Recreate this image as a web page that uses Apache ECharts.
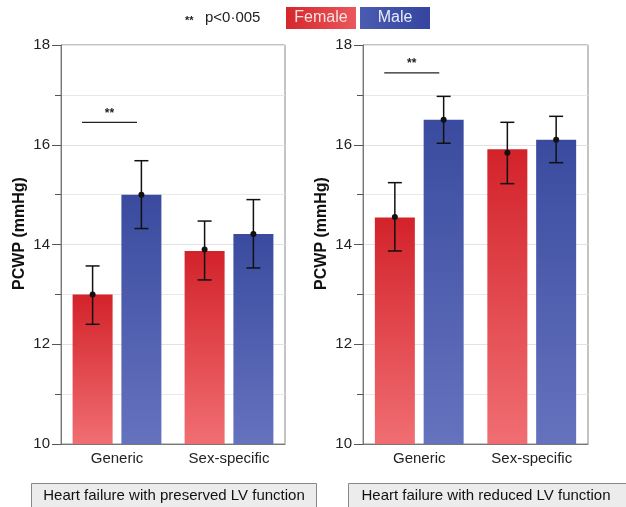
<!DOCTYPE html>
<html>
<head>
<meta charset="utf-8">
<script src="https://cdn.jsdelivr.net/npm/echarts@6/dist/echarts.min.js"></script>
<style>html,body{margin:0;padding:0;background:#fff;}#c{width:626px;height:507px;}</style>
</head>
<body>
<div id="c"></div>
<script>
// ---- data ----
const categories = ['Generic', 'Sex-specific'];
const panelTitles = ['Heart failure with preserved LV function', 'Heart failure with reduced LV function'];
const yTicks = [10, 12, 14, 16, 18];

const preservedFemale = [13.0, 13.87];
const preservedMale = [15.0, 14.21];
const preservedFemaleDot = [13.0, 13.9];
const preservedMaleDot = [15.0, 14.21];
const preservedFemaleLow = [12.4, 13.29];
const preservedFemaleHigh = [13.57, 14.47];
const preservedMaleLow = [14.32, 13.53];
const preservedMaleHigh = [15.68, 14.9];

const reducedFemale = [14.54, 15.91];
const reducedMale = [16.5, 16.1];
const reducedFemaleDot = [14.55, 15.84];
const reducedMaleDot = [16.5, 16.1];
const reducedFemaleLow = [13.87, 15.22];
const reducedFemaleHigh = [15.24, 16.45];
const reducedMaleLow = [16.03, 15.64];
const reducedMaleHigh = [16.97, 16.57];

const sigPreserved = [[0, 16.45]];
const sigReduced = [[0, 17.44]];
const sigLabel = '**';
const legendNote = 'p<0·005';
const seriesNames = ['Female', 'Male'];

// ---- styles ----
const BAR_W = 40, BAR_GAP = 0.22;
const OFFSET = (BAR_W + BAR_W * BAR_GAP) / 2;
const femaleGrad = new echarts.graphic.LinearGradient(0, 0, 0, 1, [
  {offset: 0, color: '#d3222a'}, {offset: 1, color: '#f06e72'}]);
const maleGrad = new echarts.graphic.LinearGradient(0, 0, 0, 1, [
  {offset: 0, color: '#3a4b9f'}, {offset: 1, color: '#6572be'}]);

function errData(low, high, dot) {
  return low.map((l, i) => [i, l, high[i], dot[i]]);
}
function errSeries(gi, data, sign) {
  return {
    type: 'custom', xAxisIndex: gi, yAxisIndex: gi, z: 5, silent: true,
    data: data,
    renderItem: function (params, api) {
      const lo = api.coord([api.value(0), api.value(1)]);
      const hi = api.coord([api.value(0), api.value(2)]);
      const d = api.coord([api.value(0), api.value(3)]);
      const x = lo[0] + sign * OFFSET;
      const st = {stroke: '#111', lineWidth: 1.5};
      return {type: 'group', children: [
        {type: 'line', shape: {x1: x, y1: lo[1], x2: x, y2: hi[1]}, style: st},
        {type: 'line', shape: {x1: x - 7, y1: lo[1], x2: x + 7, y2: lo[1]}, style: st},
        {type: 'line', shape: {x1: x - 7, y1: hi[1], x2: x + 7, y2: hi[1]}, style: st},
        {type: 'circle', shape: {cx: x, cy: d[1], r: 3}, style: {fill: '#111'}}
      ]};
    }
  };
}
function sigSeries(gi, data) {
  return {
    type: 'custom', xAxisIndex: gi, yAxisIndex: gi, z: 5, silent: true,
    data: data,
    renderItem: function (params, api) {
      const c = api.coord([api.value(0), api.value(1)]);
      const x1 = c[0] - 35, x2 = c[0] + 20;
      return {type: 'group', children: [
        {type: 'line', shape: {x1: x1, y1: c[1], x2: x2, y2: c[1]}, style: {stroke: '#222', lineWidth: 1.2}},
        {type: 'text', style: {text: sigLabel, x: (x1 + x2) / 2, y: c[1] - 3, textAlign: 'center', textVerticalAlign: 'bottom', font: 'bold 12px "Liberation Sans", Arial, sans-serif', fill: '#222'}}
      ]};
    }
  };
}
function barSeries(gi, name, data, grad) {
  return {type: 'bar', name: name, xAxisIndex: gi, yAxisIndex: gi, data: data, barWidth: BAR_W, barGap: (BAR_GAP * 100) + '%',
    itemStyle: {color: grad}, silent: true};
}

const grids = [
  {left: 61, right: 341, top: 45, bottom: 63},
  {left: 363, right: 38, top: 45, bottom: 63}
];
const FONT = '"Liberation Sans", Arial, sans-serif';

const option = {
  animation: false,
  grid: grids.map(g => Object.assign({show: true, borderColor: '#888', borderWidth: 1, backgroundColor: 'transparent'}, g)),
  xAxis: grids.map((g, i) => ({
    type: 'category', gridIndex: i, data: categories,
    axisLine: {lineStyle: {color: '#777'}}, axisTick: {show: false},
    axisLabel: {fontSize: 15, color: '#222', margin: 7, fontFamily: FONT}
  })),
  yAxis: grids.map((g, i) => ({
    type: 'value', gridIndex: i, min: yTicks[0], max: yTicks[yTicks.length - 1], interval: 2,
    name: 'PCWP (mmHg)', nameLocation: 'middle', nameRotate: 90, nameGap: 33,
    nameTextStyle: {fontSize: 16, fontWeight: 'bold', color: '#111', fontFamily: FONT, padding: [0, 0, 0, 22]},
    axisLine: {show: true, lineStyle: {color: '#777'}},
    axisTick: {show: true, inside: false, length: 9, lineStyle: {color: '#555'}},
    minorTick: {show: true, splitNumber: 2, length: 6, lineStyle: {color: '#555'}},
    splitLine: {show: true, lineStyle: {color: '#e2e2e2'}},
    minorSplitLine: {show: true, lineStyle: {color: '#e8e8e8'}},
    axisLabel: {fontSize: 15, color: '#222', margin: 11, fontFamily: FONT}
  })),
  series: [
    barSeries(0, seriesNames[0], preservedFemale, femaleGrad),
    barSeries(0, seriesNames[1], preservedMale, maleGrad),
    barSeries(1, seriesNames[0], reducedFemale, femaleGrad),
    barSeries(1, seriesNames[1], reducedMale, maleGrad),
    errSeries(0, errData(preservedFemaleLow, preservedFemaleHigh, preservedFemaleDot), -1),
    errSeries(0, errData(preservedMaleLow, preservedMaleHigh, preservedMaleDot), 1),
    errSeries(1, errData(reducedFemaleLow, reducedFemaleHigh, reducedFemaleDot), -1),
    errSeries(1, errData(reducedMaleLow, reducedMaleHigh, reducedMaleDot), 1),
    sigSeries(0, sigPreserved),
    sigSeries(1, sigReduced)
  ],
  graphic: [
    {type: 'text', left: 185, top: 15, style: {text: sigLabel, font: 'bold 11px ' + FONT, fill: '#222'}},
    {type: 'text', left: 205, top: 10, style: {text: legendNote, font: '15px ' + FONT, fill: '#222'}},
    {type: 'rect', shape: {x: 286, y: 7, width: 70, height: 22},
      style: {fill: new echarts.graphic.LinearGradient(0, 0, 1, 0, [{offset: 0, color: '#d5262d'}, {offset: 1, color: '#ea575c'}])}},
    {type: 'text', x: 321, y: 18, style: {text: seriesNames[0], font: '16px ' + FONT, fill: '#f7e2e2', textAlign: 'center', textVerticalAlign: 'middle'}},
    {type: 'rect', shape: {x: 360, y: 7, width: 70, height: 22},
      style: {fill: new echarts.graphic.LinearGradient(0, 0, 1, 0, [{offset: 0, color: '#4a5bb0'}, {offset: 1, color: '#3545a0'}])}},
    {type: 'text', x: 395, y: 18, style: {text: seriesNames[1], font: '16px ' + FONT, fill: '#e8ecf8', textAlign: 'center', textVerticalAlign: 'middle'}},
    {type: 'rect', shape: {x: 31.5, y: 483.5, width: 285, height: 30}, style: {fill: '#ececec', stroke: '#888', lineWidth: 1}},
    {type: 'text', x: 174, y: 496, style: {text: panelTitles[0], font: '15px ' + FONT, fill: '#111', textAlign: 'center', textVerticalAlign: 'middle'}},
    {type: 'rect', shape: {x: 348.5, y: 483.5, width: 290, height: 30}, style: {fill: '#ececec', stroke: '#888', lineWidth: 1}},
    {type: 'text', x: 486, y: 496, style: {text: panelTitles[1], font: '15px ' + FONT, fill: '#111', textAlign: 'center', textVerticalAlign: 'middle'}}
  ]
};
const chart = echarts.init(document.getElementById('c'), null, {renderer: 'canvas'});
chart.setOption(option);
</script>
</body>
</html>
